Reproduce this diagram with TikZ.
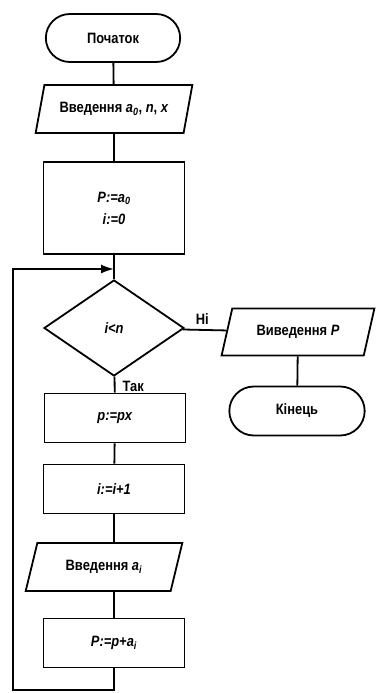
\documentclass[tikz,border=0pt]{standalone}
\usepackage{fontspec}
\setmainfont{Liberation Sans}[FakeStretch=0.86]
\usetikzlibrary{arrows.meta,shapes.geometric,shapes.misc}
\newcommand\mv[1]{\textbf{\textit{#1}}}
\tikzset{
  >={Latex[length=13pt,width=9pt]},
  every node/.style={font=\fontsize{15}{22}\selectfont\bfseries},
  term/.style={rounded rectangle,draw,minimum width=141pt,minimum height=48pt},
  proc/.style={rectangle,draw,minimum width=141pt,minimum height=49pt,align=center},
  io/.style={trapezium,trapezium left angle=70,trapezium right angle=110,trapezium stretches=true,draw,minimum width=157pt,minimum height=48pt},
  dec/.style={diamond,draw,minimum width=140pt,minimum height=96pt,inner sep=0pt},
  lbl/.style={inner sep=1pt},
  every picture/.style={line width=1.8pt},
}
\begin{document}
\begin{tikzpicture}[x=1pt,y=-1pt]
\useasboundingbox (0,0) rectangle (376,693);
\node[term] (start) at (113,38){Початок};
\node[io] (in1) at (114,109){Введення \mv{a}\textsubscript{\mv{0}}, \mv{n}, \mv{x}};
\node[proc,minimum height=92pt] (init) at (114,208){\mv{P:=a}\textsubscript{\mv{0}}\\\mv{i:=0}};
\node[dec] (cond) at (114,328){\mv{i<n}};
\node[io,minimum width=153pt,minimum height=47pt] (out) at (298,332){Виведення \mv{P}};
\node[term,minimum width=142pt,minimum height=49pt] (stop) at (297,411){Кінець};
\node[proc] (mul) at (115,418){\mv{p:=px}};
\node[proc] (inc) at (114,489){\mv{i:=i+1}};
\node[io] (in2) at (104,567){Введення \mv{a}\textsubscript{\mv{i}}};
\node[proc] (add) at (114,643){\mv{P:=p+a}\textsubscript{\mv{i}}};
\coordinate (join) at (114,269); \coordinate (back) at (13,690);
\draw (start)--(in1); \draw (in1)--(init); \draw (init)--(cond);
\draw (cond)--(out) node[lbl,pos=0.45,above=4pt]{Ні};
\draw (out)--(stop);
\draw (cond)--(mul) node[lbl,pos=0.62,right=6pt]{Так};
\draw (mul)--(inc); \draw (inc)--(inc|-in2.north); \draw (add|-in2.south)--(add);
\draw[->] (add)--(add|-back)--(back)|-(join);
\end{tikzpicture}
\end{document}
